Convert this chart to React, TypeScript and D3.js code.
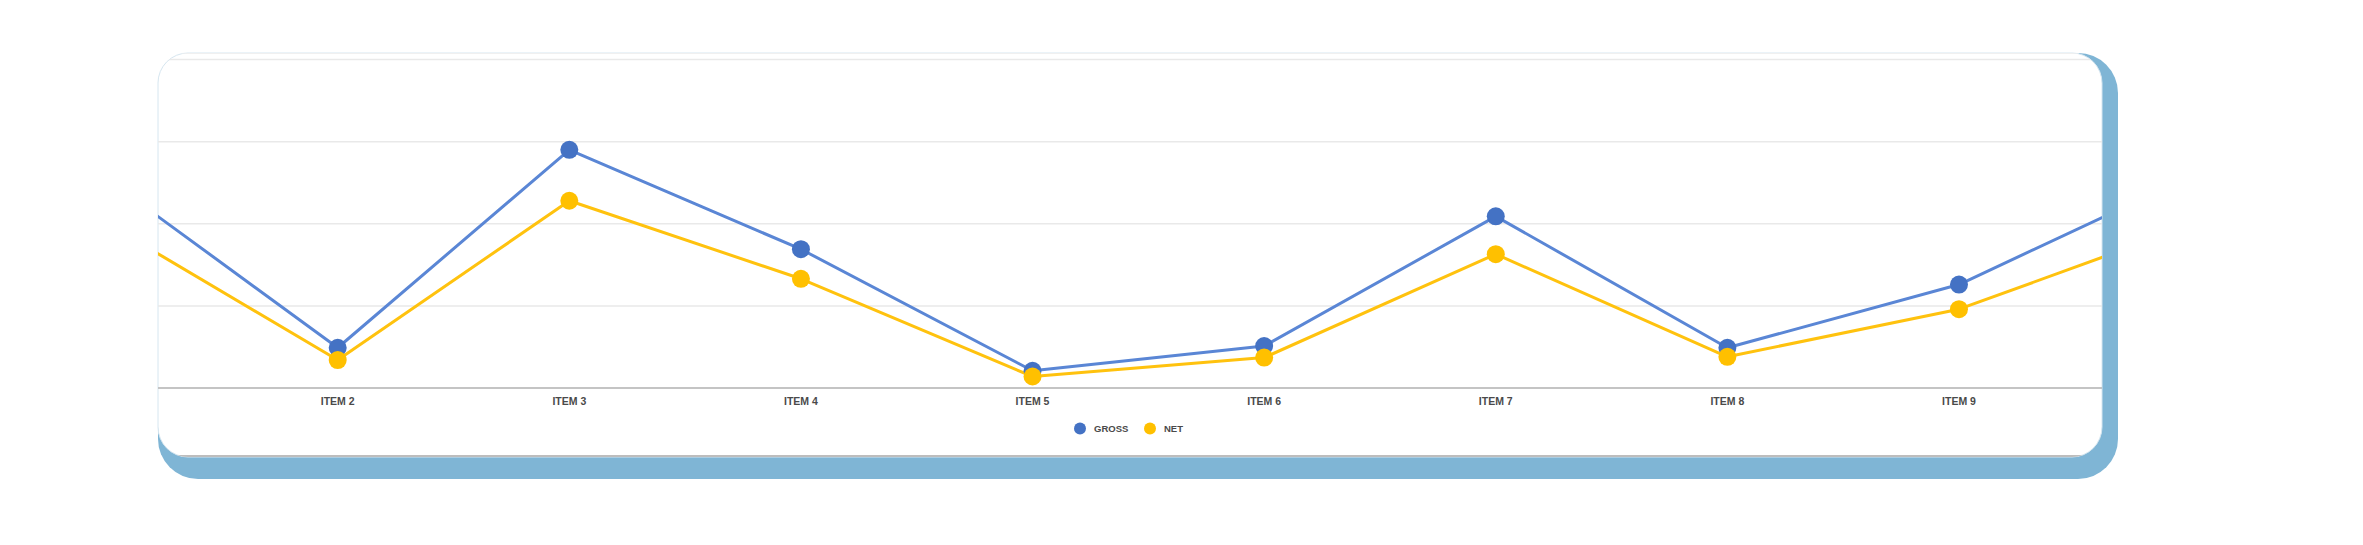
import React, { useEffect, useRef } from "react";
import * as d3 from "d3";

const categories = ["ITEM 1", "ITEM 2", "ITEM 3", "ITEM 4", "ITEM 5", "ITEM 6", "ITEM 7", "ITEM 8", "ITEM 9", "ITEM 10"];
const gross = [25.5, 4.9, 29.0, 16.9, 2.1, 5.1, 20.9, 4.9, 12.6, 25.8];
const net = [20.1, 3.4, 22.8, 13.3, 1.4, 3.7, 16.3, 3.8, 9.6, 19.8];
const yTicks = [0, 10, 20, 30, 40];
const seriesNames = ["GROSS", "NET"];
const seriesColors = ["#4472C4", "#FFC000"];
const lineColors = ["#5A86D5", "#FFC20E"];

const W = 2363;
const H = 545;

export default function App() {
  const ref = useRef<SVGSVGElement>(null);

  useEffect(() => {
    const svg = d3.select(ref.current);
    svg.selectAll("*").remove();

    const cardL = 158, cardT = 53, cardR = 2102, cardB = 457;
    const shadowR = 2118, shadowB = 479;

    // shadow
    svg.append("rect")
      .attr("x", cardL).attr("y", cardT)
      .attr("width", shadowR - cardL).attr("height", shadowB - cardT)
      .attr("rx", 40).attr("ry", 40)
      .attr("fill", "#7FB5D5");

    // white card
    const defs = svg.append("defs");
    defs.append("clipPath").attr("id", "cardClip")
      .append("rect")
      .attr("x", cardL).attr("y", cardT)
      .attr("width", cardR - cardL).attr("height", cardB - cardT)
      .attr("rx", 30).attr("ry", 30);

    svg.append("rect")
      .attr("x", cardL).attr("y", cardT)
      .attr("width", cardR - cardL).attr("height", cardB - cardT)
      .attr("rx", 30).attr("ry", 30)
      .attr("fill", "#ffffff")
      .attr("stroke", "#D6E6F0").attr("stroke-width", 1);

    const g = svg.append("g").attr("clip-path", "url(#cardClip)");

    // bottom gray edge and top faint edge
    g.append("line").attr("x1", cardL).attr("x2", cardR).attr("y1", cardB - 1).attr("y2", cardB - 1)
      .attr("stroke", "#BDBDBD").attr("stroke-width", 2);
    g.append("line").attr("x1", cardL).attr("x2", cardR).attr("y1", cardT + 0.5).attr("y2", cardT + 0.5)
      .attr("stroke", "#F0F0F0").attr("stroke-width", 1);

    const x = d3.scalePoint<string>().domain(categories).range([106.1, 2190.6]);
    const y = d3.scaleLinear().domain([0, 40]).range([388, 59.5]);

    // gridlines
    g.selectAll("line.grid")
      .data(yTicks.filter((t) => t > 0))
      .join("line")
      .attr("class", "grid")
      .attr("x1", cardL).attr("x2", cardR)
      .attr("y1", (d) => y(d)).attr("y2", (d) => y(d))
      .attr("stroke", "#E9E9E9").attr("stroke-width", 1.5);

    // axis line
    g.append("line")
      .attr("x1", cardL).attr("x2", cardR)
      .attr("y1", y(0)).attr("y2", y(0))
      .attr("stroke", "#C4C4C4").attr("stroke-width", 2);

    // x labels
    g.selectAll("text.xl")
      .data(categories)
      .join("text")
      .attr("class", "xl")
      .attr("x", (d) => x(d)!)
      .attr("y", 401)
      .attr("dy", "0.35em")
      .attr("text-anchor", "middle")
      .attr("font-family", "'Liberation Sans', Arial, sans-serif")
      .attr("font-size", 10.5)
      .attr("font-weight", 700)
      .attr("fill", "#4a4a4a")
      .text((d) => d);

    const allSeries = [gross, net];
    const line = d3.line<number>()
      .x((_, i) => x(categories[i])!)
      .y((d) => y(d));

    allSeries.forEach((vals, si) => {
      g.append("path")
        .datum(vals)
        .attr("d", line)
        .attr("fill", "none")
        .attr("stroke", lineColors[si])
        .attr("stroke-width", 3)
        .attr("stroke-linejoin", "round");
    });
    allSeries.forEach((vals, si) => {
      g.selectAll(`circle.s${si}`)
        .data(vals)
        .join("circle")
        .attr("class", `s${si}`)
        .attr("cx", (_, i) => x(categories[i])!)
        .attr("cy", (d) => y(d))
        .attr("r", 9)
        .attr("fill", seriesColors[si]);
    });

    // legend
    const legendX = [1080, 1150];
    seriesNames.forEach((name, i) => {
      const lg = svg.append("g");
      lg.append("circle").attr("cx", legendX[i]).attr("cy", 428.5).attr("r", 6).attr("fill", seriesColors[i]);
      lg.append("text")
        .attr("x", legendX[i] + 14)
        .attr("y", 428.5)
        .attr("dy", "0.35em")
        .attr("font-family", "'Liberation Sans', Arial, sans-serif")
        .attr("font-size", 9.5)
        .attr("font-weight", 700)
        .attr("fill", "#4a4a4a")
        .text(name);
    });
  }, []);

  return (
    <svg
      ref={ref}
      width={W}
      height={H}
      style={{ position: "absolute", left: 0, top: 0, background: "#ffffff" }}
    />
  );
}
